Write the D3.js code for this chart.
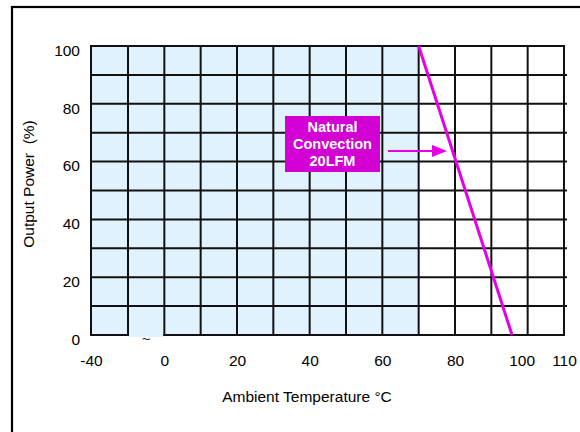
<!DOCTYPE html>
<html>
<head>
<meta charset="utf-8">
<script src="https://cdn.jsdelivr.net/npm/d3@7"></script>
<style>
  html, body { margin: 0; padding: 0; background: #fff; }
  svg { display: block; font-family: Arial, "Liberation Sans", sans-serif; }
</style>
</head>
<body>
<svg id="chart" width="580" height="432"></svg>
<script>
// ---- data ----
const xTickValues = [-40, 0, 20, 40, 60, 80, 100, 110];
const xTickLabels = ["-40", "0", "20", "40", "60", "80", "100", "110"];
const yTickValues = [0, 20, 40, 60, 80, 100];
const xGridValues = [-40, -10, 0, 10, 20, 30, 40, 50, 60, 70, 80, 90, 100, 110];
const yGridValues = [0, 10, 20, 30, 40, 50, 60, 70, 80, 90, 100];
const shadeTemp = [-40, 70];
const breakTemp = [-10, 0];
const curveTemp = [70, 95.7];
const curvePower = [100, 0];
const calloutLines = ["Natural", "Convection", "20LFM"];
const calloutPoint = [80, 64];
const xTitle = "Ambient Temperature \u00B0C";
const yTitle = "Output Power  (%)";

// ---- layout ----
const svg = d3.select("#chart");
const x = d3.scaleLinear().domain([-40, -10, 110]).range([91, 128, 564]);
const y = d3.scaleLinear().domain([0, 100]).range([335, 46]);
const magenta = "#e600e6";
const boxColor = "#d200d2";
const gridColor = "#111";

// outer frame
svg.append("rect").attr("x", 12).attr("y", 7).attr("width", 700).attr("height", 600)
  .attr("fill", "none").attr("stroke", "#000").attr("stroke-width", 2.2);

// shaded operating area
svg.append("rect")
  .attr("x", x(shadeTemp[0])).attr("y", y(100))
  .attr("width", x(shadeTemp[1]) - x(shadeTemp[0])).attr("height", y(0) - y(100))
  .attr("fill", "#e0f2fd");
// break column extends slightly below
svg.append("rect")
  .attr("x", x(breakTemp[0])).attr("y", y(0) - 1)
  .attr("width", x(breakTemp[1]) - x(breakTemp[0])).attr("height", 3)
  .attr("fill", "#e0f2fd");

// grid
const grid = svg.append("g").attr("stroke", gridColor).attr("stroke-width", 2);
grid.selectAll("line.v").data(xGridValues).join("line")
  .attr("class", "v")
  .attr("x1", d => x(d)).attr("x2", d => x(d))
  .attr("y1", y(100) - 1).attr("y2", y(0) + 1);
grid.selectAll("line.h").data(yGridValues.filter(d => d > 0)).join("line")
  .attr("class", "h")
  .attr("x1", x(-40) - 1).attr("x2", d => x(110) + (d === 100 ? 1 : 3))
  .attr("y1", d => y(d)).attr("y2", d => y(d));
// baseline, interrupted at the axis break
grid.append("line").attr("x1", x(-40) - 1).attr("x2", x(breakTemp[0]) + 1)
  .attr("y1", y(0)).attr("y2", y(0));
grid.append("line").attr("x1", x(breakTemp[1]) - 1).attr("x2", x(110) + 1)
  .attr("y1", y(0)).attr("y2", y(0));

// break mark
svg.append("text").attr("x", (x(breakTemp[0]) + x(breakTemp[1])) / 2).attr("y", y(0) + 9)
  .attr("text-anchor", "middle").attr("font-size", 15).attr("fill", "#222").text("~");

// derating curve
const line = d3.line().x(d => x(d[0])).y(d => y(d[1]));
svg.append("path")
  .datum(curveTemp.map((t, i) => [t, curvePower[i]]))
  .attr("d", line).attr("fill", "none").attr("stroke", magenta).attr("stroke-width", 3);

// callout box
const box = { x0: 285, y0: 116, x1: 380, y1: 172 };
svg.append("rect").attr("x", box.x0).attr("y", box.y0)
  .attr("width", box.x1 - box.x0).attr("height", box.y1 - box.y0).attr("fill", boxColor);
svg.append("g").selectAll("text").data(calloutLines).join("text")
  .attr("x", (box.x0 + box.x1) / 2).attr("y", (d, i) => 132 + i * 17)
  .attr("text-anchor", "middle").attr("font-size", 14.5).attr("font-weight", "bold")
  .attr("fill", "#fff").text(d => d);

// arrow
const tipX = x(calloutPoint[0]) - 8, tipY = y(calloutPoint[1]) + 1;
svg.append("line").attr("x1", 388).attr("x2", tipX - 12).attr("y1", tipY).attr("y2", tipY)
  .attr("stroke", magenta).attr("stroke-width", 2);
svg.append("path")
  .attr("d", `M${tipX},${tipY} L${tipX - 15},${tipY - 6} L${tipX - 15},${tipY + 6} Z`)
  .attr("fill", magenta);

// axes
const xAxis = d3.axisBottom(x).tickValues(xTickValues)
  .tickFormat((d, i) => xTickLabels[i]).tickSize(0).tickPadding(20);
const gx = svg.append("g").attr("transform", `translate(0,${y(0)})`).call(xAxis);
gx.select(".domain").remove();
gx.selectAll("text").attr("font-size", 15.5).attr("font-family", "Arial, 'Liberation Sans', sans-serif")
  .attr("fill", "#000")
  .attr("dx", d => d === 100 ? -6 : 0);

const yAxis = d3.axisLeft(y).tickValues(yTickValues).tickSize(0).tickPadding(11);
const gy = svg.append("g").attr("transform", `translate(${x(-40)},0)`).call(yAxis);
gy.select(".domain").remove();
gy.selectAll("text").attr("font-size", 15.5).attr("font-family", "Arial, 'Liberation Sans', sans-serif")
  .attr("fill", "#000").attr("dy", "0.6em");

// titles
svg.append("text").attr("x", 307).attr("y", 402).attr("text-anchor", "middle")
  .attr("font-size", 15.5).attr("fill", "#000").text(xTitle);
svg.append("text").attr("transform", "translate(34,184) rotate(-90)")
  .attr("text-anchor", "middle").attr("font-size", 15.5).attr("fill", "#000")
  .style("white-space", "pre").text(yTitle);
</script>
</body>
</html>
